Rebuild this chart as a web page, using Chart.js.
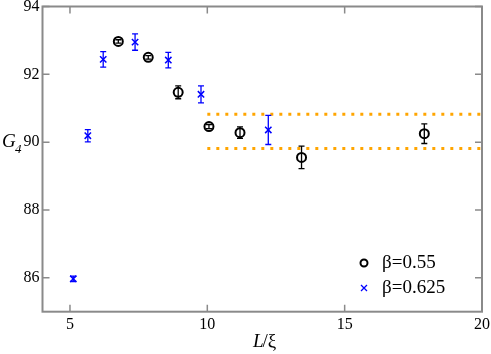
<!DOCTYPE html>
<html>
<head>
<meta charset="utf-8">
<script src="https://cdn.jsdelivr.net/npm/chart.js@4/dist/chart.umd.min.js"></script>
<style>
  html, body { margin: 0; padding: 0; background: #fff; }
  #wrap { width: 491px; height: 354px; }
</style>
</head>
<body>
<div id="wrap"><canvas id="myChart" width="491" height="354"></canvas></div>
<script>
// beta = 0.55 (black circles)
const xA = [6.76, 7.85, 8.94, 10.06, 11.19, 13.43, 17.9];
const yA = [92.97, 92.50, 91.47, 90.46, 90.28, 89.55, 90.25];
const eA = [0.05, 0.05, 0.19, 0.06, 0.17, 0.33, 0.29];
// beta = 0.625 (blue crosses)
const xB = [5.12, 5.65, 6.21, 7.37, 8.58, 9.77, 12.22];
const yB = [85.97, 90.19, 92.44, 92.95, 92.42, 91.41, 90.36];
const eB = [0.08, 0.18, 0.23, 0.24, 0.23, 0.25, 0.43];
// orange dotted band
const bandX = [10, 20];
const bandLow = 89.81;
const bandHigh = 90.82;

const xTicks = [5, 10, 15, 20];
const yTicks = [86, 88, 90, 92, 94];
const legendLabels = ['β=0.55', 'β=0.625'];

const serif = "'Liberation Serif', 'Times New Roman', Times, serif";
const frameColor = '#8a8a8a';

const toPts = (xs, ys) => xs.map((x, i) => ({ x: x, y: ys[i] }));

// error bars, drawn through the scales
const errorBars = {
  id: 'errorBars',
  afterDatasetsDraw(chart) {
    const ctx = chart.ctx, xs = chart.scales.x, ys = chart.scales.y;
    [[xA, yA, eA, '#000000'], [xB, yB, eB, '#0000ff']].forEach(([xv, yv, ev, col]) => {
      ctx.save();
      ctx.strokeStyle = col;
      ctx.lineWidth = 1.3;
      xv.forEach((x, i) => {
        const px = xs.getPixelForValue(x);
        const top = ys.getPixelForValue(yv[i] + ev[i]);
        const bot = ys.getPixelForValue(yv[i] - ev[i]);
        ctx.beginPath();
        ctx.moveTo(px, top); ctx.lineTo(px, bot);
        ctx.moveTo(px - 3, top); ctx.lineTo(px + 3, top);
        ctx.moveTo(px - 3, bot); ctx.lineTo(px + 3, bot);
        ctx.stroke();
      });
      ctx.restore();
    });
  }
};

// frame, inward ticks, axis titles, legend
const decor = {
  id: 'decor',
  afterDraw(chart) {
    const ctx = chart.ctx, a = chart.chartArea, xs = chart.scales.x, ys = chart.scales.y;
    ctx.save();
    ctx.strokeStyle = frameColor;
    ctx.lineWidth = 1.5;
    xTicks.forEach(v => {
      const px = xs.getPixelForValue(v);
      ctx.beginPath();
      ctx.moveTo(px, a.bottom); ctx.lineTo(px, a.bottom - 7);
      ctx.moveTo(px, a.top); ctx.lineTo(px, a.top + 7);
      ctx.stroke();
    });
    yTicks.forEach(v => {
      const py = ys.getPixelForValue(v);
      ctx.beginPath();
      ctx.moveTo(a.left, py); ctx.lineTo(a.left + 7, py);
      ctx.moveTo(a.right, py); ctx.lineTo(a.right - 7, py);
      ctx.stroke();
    });
    ctx.lineWidth = 2;
    ctx.strokeRect(a.left, a.top, a.right - a.left, a.bottom - a.top);

    // axis titles
    ctx.fillStyle = '#000';
    ctx.textBaseline = 'alphabetic';
    ctx.textAlign = 'left';
    ctx.font = 'italic 19px ' + serif;
    ctx.fillText('G', 2, 147);
    ctx.font = 'italic 13px ' + serif;
    ctx.fillText('4', 15, 153);
    ctx.font = 'italic 19px ' + serif;
    ctx.fillText('L', 253, 347);
    const lw = ctx.measureText('L').width;
    ctx.font = '19px ' + serif;
    ctx.fillText('/ξ', 253 + lw - 1, 347);

    // legend
    ctx.font = '19px ' + serif;
    ctx.textBaseline = 'middle';
    ctx.fillText(legendLabels[0], 382, 263);
    ctx.fillText(legendLabels[1], 382, 288);
    ctx.lineWidth = 2;
    ctx.strokeStyle = '#000';
    ctx.beginPath();
    ctx.arc(364, 263, 3.5, 0, Math.PI * 2);
    ctx.stroke();
    ctx.strokeStyle = '#0000ff';
    ctx.lineWidth = 1.3;
    ctx.beginPath();
    ctx.moveTo(361, 285); ctx.lineTo(367, 291);
    ctx.moveTo(367, 285); ctx.lineTo(361, 291);
    ctx.stroke();
    ctx.restore();
  }
};

function noPad(s) {
  s.paddingTop = 0; s.paddingBottom = 0; s.paddingLeft = 0; s.paddingRight = 0;
}

function draw() {
  const ctx = document.getElementById('myChart').getContext('2d');
  new Chart(ctx, {
    type: 'scatter',
    data: {
      datasets: [
        {
          label: legendLabels[0],
          data: toPts(xA, yA),
          pointStyle: 'circle',
          pointRadius: 4.5,
          borderColor: '#000000',
          backgroundColor: 'rgba(0,0,0,0)',
          borderWidth: 2,
          pointHoverRadius: 4.5
        },
        {
          label: legendLabels[1],
          data: toPts(xB, yB),
          pointStyle: 'crossRot',
          pointRadius: 4.5,
          borderColor: '#0000ff',
          backgroundColor: '#0000ff',
          borderWidth: 1.5,
          pointHoverRadius: 4.5
        },
        {
          type: 'line',
          label: 'upper',
          data: bandX.map(x => ({ x: x, y: bandHigh })),
          borderColor: '#ffa500',
          borderWidth: 3,
          borderDash: [3, 6],
          pointRadius: 0,
          fill: false
        },
        {
          type: 'line',
          label: 'lower',
          data: bandX.map(x => ({ x: x, y: bandLow })),
          borderColor: '#ffa500',
          borderWidth: 3,
          borderDash: [3, 6],
          pointRadius: 0,
          fill: false
        }
      ]
    },
    options: {
      responsive: false,
      animation: false,
      layout: { padding: { top: 6, right: 9, left: 0, bottom: 0 } },
      plugins: { legend: { display: false }, tooltip: { enabled: false } },
      scales: {
        x: {
          type: 'linear',
          min: 4, max: 20,
          afterBuildTicks: s => { s.ticks = xTicks.map(v => ({ value: v })); },
          afterFit: s => { s.height = 42.3; noPad(s); },
          grid: { display: false, drawTicks: false },
          border: { display: false },
          ticks: { color: '#000', padding: 3, maxRotation: 0, font: { family: serif, size: 16 } }
        },
        y: {
          type: 'linear',
          min: 85, max: 94,
          afterBuildTicks: s => { s.ticks = yTicks.map(v => ({ value: v })); },
          afterFit: s => { s.width = 42.5; noPad(s); },
          grid: { display: false, drawTicks: false },
          border: { display: false },
          ticks: { color: '#000', padding: 3, font: { family: serif, size: 16 } }
        }
      }
    },
    plugins: [errorBars, decor]
  });
}

Promise.all([
  document.fonts.load("16px 'Liberation Serif'"),
  document.fonts.load("italic 19px 'Liberation Serif'")
]).then(draw, draw);
</script>
</body>
</html>
